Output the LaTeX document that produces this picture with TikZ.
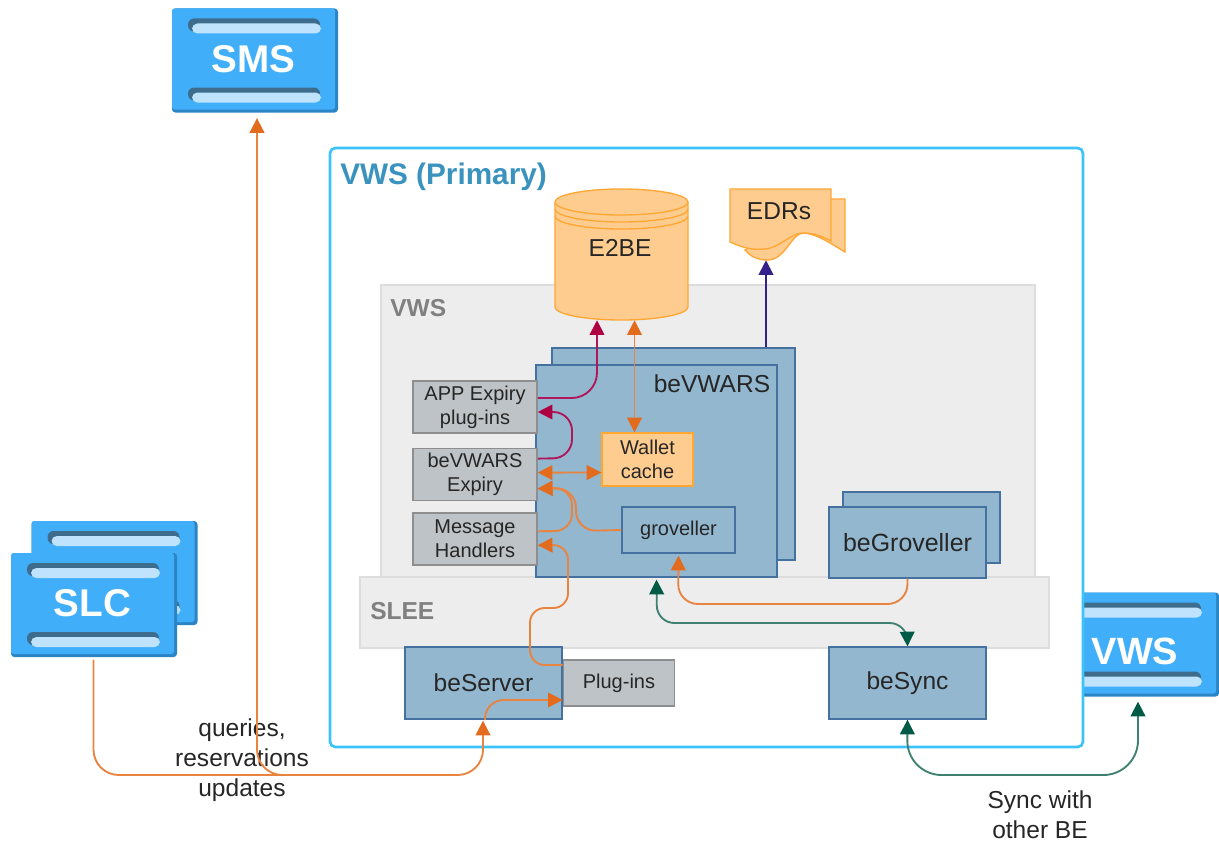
\documentclass[tikz,border=0pt]{standalone}
\usepackage{fontspec}
\setmainfont{Liberation Sans}
\usetikzlibrary{positioning,arrows.meta}
\definecolor{srvblue}{HTML}{41AEFA}
\definecolor{srvedge}{HTML}{2B84C4}
\definecolor{srvbar}{HTML}{BFE3FC}
\definecolor{srvslot}{HTML}{3D6C8C}
\definecolor{frameblue}{HTML}{3CC3F7}
\definecolor{titleblue}{HTML}{3A93BE}
\definecolor{panelfill}{HTML}{EDEDED}
\definecolor{paneledge}{HTML}{DDDDDD}
\definecolor{procfill}{HTML}{93B7CE}
\definecolor{procedge}{HTML}{44719F}
\definecolor{greyfill}{HTML}{BDC3C7}
\definecolor{greyedge}{HTML}{8E8E8E}
\definecolor{storefill}{HTML}{FFCC8F}
\definecolor{storeedge}{HTML}{FFA733}
\definecolor{lineorange}{HTML}{E8843F}
\definecolor{headorange}{HTML}{E36B1E}
\definecolor{linecrimson}{HTML}{B0175A}
\definecolor{headcrimson}{HTML}{AE0040}
\definecolor{linegreen}{HTML}{3F8070}
\definecolor{headgreen}{HTML}{005A45}
\definecolor{lineindigo}{HTML}{35218A}
\newcommand{\serverbox}[3]{
	\fill[srvedge, rounded corners=2.5pt] ([shift={(-83,-52)}]#2) rectangle ([shift={(83,52)}]#2);
	\node[server] (#1) at ([shift={(-1.5,-1.5)}]#2) {#3};
	\foreach \ypos in {-42,27} {
		\fill[srvslot, rounded corners=4.5pt] ([shift={(-67,\ypos)}]#2) rectangle ([shift={(65,\ypos+13)}]#2);
		\fill[srvbar, rounded corners=4pt] ([shift={(-63,\ypos+5)}]#2) rectangle ([shift={(66,\ypos+15)}]#2);
	}
}
\begin{document}
\begin{tikzpicture}[x=0.75pt, y=-0.75pt,
	sized/.style 2 args = {minimum width=#1*0.75pt, minimum height=#2*0.75pt, inner sep=0pt},
	big/.style = {font=\fontsize{18.4}{22.5}\selectfont, text=black!85},
	small/.style = {font=\fontsize{15}{18}\selectfont, text=black!85},
	server/.style = {sized={163}{101}, fill=srvblue, rounded corners=2pt, text=white, font=\fontsize{29}{34}\bfseries\selectfont, outer sep=2pt},
	panel/.style = {fill=panelfill, draw=paneledge, line width=1pt},
	paneltext/.style = {anchor=west, inner sep=0pt, font=\fontsize{18.4}{22}\bfseries\selectfont, text=black!50},
	proc/.style = {fill=procfill, draw=procedge, line width=1pt, big},
	grey/.style = {sized={124}{52}, fill=greyfill, draw=greyedge, line width=1.2pt, small, align=center},
	store/.style = {fill=storefill, draw=storeedge, line width=1pt},
	otip/.tip = {Triangle[length=11pt, width=11pt, color=headorange]},
	ctip/.tip = {Triangle[length=11pt, width=11pt, color=headcrimson]},
	gtip/.tip = {Triangle[length=11pt, width=11pt, color=headgreen]},
	itip/.tip = {Triangle[length=11pt, width=11pt, color=lineindigo]},
	orangeline/.style = {draw=lineorange, line width=1.4pt},
	crimsonline/.style = {draw=linecrimson, line width=1.4pt},
	greenline/.style = {draw=linegreen, line width=1.4pt}]
	\useasboundingbox (0,0) rectangle (1219,842);

	% servers outside
	\serverbox{sms}{255,60.5}{SMS}
	\serverbox{slcback}{114.5,573}{}
	\serverbox{slc}{94,605}{SLC}
	\serverbox{vwspeer}{1136,644.5}{}
	\node[text=white, font=\fontsize{28.5}{34}\bfseries\selectfont] (vwspeertext) at (1135,651) {VWS};

	% primary frame and panels
	\node[sized={753}{599}, fill=white, draw=frameblue, line width=2pt, rounded corners=4pt] (primary) at (706.5,447.5) {};
	\node[anchor=west, inner sep=0pt, font=\fontsize{22.3}{26}\bfseries\selectfont, text=titleblue] (primarytext) at (340,177) {VWS (Primary)};
	\node[panel, sized={654}{292}] (vwspanel) at (708,431) {};
	\node[paneltext] (vwstext) at (390,308) {VWS};
	\node[panel, sized={689}{71}] (sleepanel) at (704.5,612.5) {};
	\node[paneltext] (sleetext) at (370,611) {SLEE};

	% stores
	\draw[store] (555,202) -- (555,307) arc[start angle=180, end angle=0, x radius=66.5, y radius=13] -- (688,202) arc[start angle=0, end angle=-180, x radius=66.5, y radius=13];
	\draw[store, fill=none] (555,202) arc[start angle=180, end angle=0, x radius=66.5, y radius=13];
	\draw[store, fill=none] (555,209) arc[start angle=180, end angle=0, x radius=66.5, y radius=13];
	\draw[store, fill=none] (555,216) arc[start angle=180, end angle=0, x radius=66.5, y radius=13];
	\node[sized={133}{131}] (e2be) at (621.5,254.5) {};
	\node[big] (e2betext) at (620,248) {E2BE};
	\draw[store] (825,199) -- (845,199) -- (845,252) .. controls (830,243) and (815,233) .. (803,233) .. controls (792,233) and (785,260) .. (768,260) .. controls (757,260) and (750,256) .. (745,250) -- cycle;
	\draw[store] (730,189) -- (831,189) -- (831,241) .. controls (822,236) and (813,233) .. (803,233) .. controls (790,233) and (780,248) .. (765,249) .. controls (755,250) and (745,249) .. (730,242) -- cycle;
	\node[sized={100}{72}] (edrs) at (766,224) {};
	\node[big] (edrstext) at (779,211) {EDRs};

	% processes
	\node[proc, sized={243}{212}] (vwarsback) at (673.5,454) {};
	\node[proc, sized={241}{212}] (vwars) at (656.5,471) {};
	\node[big] (vwarstext) at (712,384) {beVWARS};
	\node[proc, sized={157}{71}] (grovback) at (921.5,527.5) {};
	\node[proc, sized={157}{71}] (grov) at (907.5,542.5) {\fontsize{18.7}{22}\selectfont beGroveller};
	\node[proc, sized={157}{72}] (beserver) at (483.5,683) {beServer};
	\node[proc, sized={157}{72}] (besync) at (907.5,683) {beSync};
	\node[grey, sized={111}{46}, right=0pt of beserver] (plugins) {Plug-ins};
	\node[grey] (appexpiry) at (475,407) {APP Expiry\\plug-ins};
	\node[grey, below=14*0.75pt of appexpiry] (vwarsexpiry) {beVWARS\\Expiry};
	\node[grey, below=11*0.75pt of vwarsexpiry] (handlers) {Message\\Handlers};
	\node[store, sized={91}{53}, small, align=center, font=\fontsize{15}{18.5}\selectfont] (wallet) at (647.5,459.5) {Wallet\\cache};
	\node[proc, sized={113}{46}, small] (groveller) at (678.5,530) {groveller};

	% free text
	\node[big, align=center] (querytext) at (242,760.5) {queries,\\reservations\\updates};
	\node[big, align=center] (synctext) at (1040,815) {Sync with\\other BE};

	% connectors
	\coordinate (busright) at (483,775);
	\coordinate (busleft) at (257,775);
	\coordinate (busmerge) at (455,775);
	\draw[orangeline, rounded corners=19pt, -otip] ([shift={(1,3)}]slc.south) |- (busright) -- ([shift={(-0.5,1)}]beserver.south);
	\draw[orangeline, rounded corners=19pt, -otip] (busmerge) -- (busleft) -- ([shift={(3.5,6)}]sms.south);
	\draw[orangeline, rounded corners=14pt, -otip] (485,720) -- (485,700) -- ([shift={(0,17)}]plugins.west);
	\draw[orangeline, rounded corners=11pt, -otip] ([shift={(0,-18)}]plugins.west) -- (530,665) -- (530,608) -- (568,608) -- (568,545) -- ([shift={(0,6)}]handlers.east);
	\draw[orangeline, rounded corners=15pt, -otip] (groveller.west) -- (576,531) -- (576,488) -- ([shift={(0,14)}]vwarsexpiry.east);
	\draw[orangeline, rounded corners=13pt, -otip] ([shift={(0,-8)}]handlers.east) -- (572,531) -- (572,488) -- ([shift={(0,14)}]vwarsexpiry.east);
	\draw[orangeline, otip-otip] ([shift={(0,-2)}]vwarsexpiry.east) -- ([shift={(0,13)}]wallet.west);
	\draw[orangeline, otip-otip] ([shift={(13,0)}]e2be.south) -- ([shift={(-13,0)}]wallet.north);
	\draw[orangeline, rounded corners=15pt, -otip] (grov.south) |- (678,604) -- ([shift={(0,2)}]groveller.south);
	\draw[crimsonline, rounded corners=19pt, -ctip] ([shift={(0,-9)}]appexpiry.east) -- (597,398) -- ([shift={(-24.5,0)}]e2be.south);
	\draw[crimsonline, rounded corners=14pt, -ctip] ([shift={(0,-16)}]vwarsexpiry.east) -- (572,458) -- (572,412) -- ([shift={(0,5)}]appexpiry.east);
	\draw[draw=lineindigo, line width=1.4pt, -itip] (vwarsback.north -| edrs) -- (edrs.south);
	\draw[greenline, rounded corners=13pt, gtip-gtip] ([shift={(0,2)}]vwars.south) -- (657,623) -- (907,623) -- (besync.north);
	\draw[greenline, rounded corners=26pt, gtip-gtip] (besync.south) -- (907,775) -- (1138,775) -- ([shift={(3.5,5.5)}]vwspeer.south);
\end{tikzpicture}
\end{document}
